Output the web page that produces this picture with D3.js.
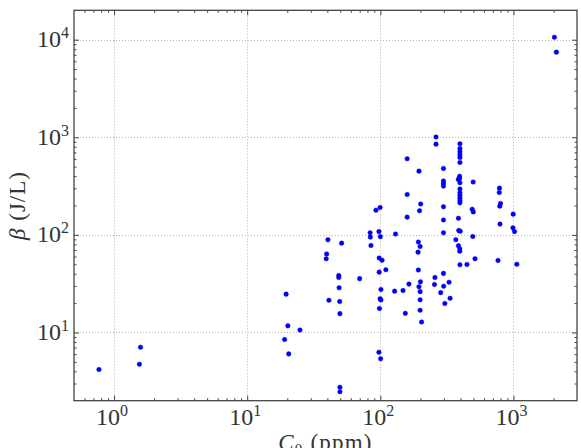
<!DOCTYPE html>
<html>
<head>
<meta charset="utf-8">
<script src="https://cdn.jsdelivr.net/npm/d3@7/dist/d3.min.js"></script>
<style>
  html, body { margin: 0; padding: 0; background: #fff; }
  svg { display: block; }
  text { font-family: "Liberation Serif", "Times New Roman", serif; fill: #333; }
</style>
</head>
<body>
<svg id="chart" width="581" height="448"></svg>
<script>
// Data (C0 in ppm, beta in J/L)
const c0 = [0.77,1.55,1.58,19.6,20.2,24.9,19.1,20.5,2030,2100,
  262,262,396,396,396,396,396,396,159,195,
  298,298,298,298,394,394,385,396,498,785,
  782,159,396,396,396,396,396,396,799,789,
  201,197,298,490,499,92.7,99.6,159,298,386,
  792,995,991,1018,83.8,84.1,85,97.6,100,130,
  298,388,398,495,40.4,51.2,193,199,192,369,
  386,395,395,39.5,39.2,98,103,514,765,1059,
  396,447,98,110,193,48.7,48.7,69.9,257,298,
  49,101,128,148,164,195,200,199,255,299,
  328,284,41.1,49.5,99.6,101,199,334,305,98.5,
  199,49.7,154,204,97.6,100.5,49.7,49.7];
const beta = [4.18,4.73,7.07,24.7,11.7,10.6,8.47,6.03,10600,7450,
  1007,850,857,767,710,662,621,552,603,450,
  479,356,336,316,399,378,370,342,348,301,
  272,259,295,270,253,238,224,213,210,197,
  207,177,194,183,172,179,191,152,142,148,
  129,163,118,108,105,94.9,77.8,108,95.9,102,
  105,111,109,96.4,89.1,82.3,84.5,76,66.5,89.3,
  77.5,72,68,63.7,56.9,58,55,57,54.7,50,
  49.5,49.8,41.5,43.9,43.6,38.4,36.6,35.6,36.6,40.3,
  28.7,27.6,26.5,26.9,31.3,29.4,33,26.2,31,29.8,
  32.7,25.6,21.4,20.8,22.2,21.5,21.6,22.4,19.8,17.6,
  16.9,15.6,15.7,12.8,6.28,5.38,2.75,2.47];

const xDomain = [0.5, 3000];
const yDomain = [2, 20000];
const xMajor = [1, 10, 100, 1000];
const yMajor = [10, 100, 1000, 10000];
const xExp = ["0", "1", "2", "3"];
const yExp = ["1", "2", "3", "4"];
const xTitle = "C";
const xTitleSub = "0";
const xTitleRest = " (ppm)";
const yTitleSym = "\u03B2";
const yTitleRest = " (J/L)";

function minorTicks(domain) {
  const out = [];
  for (let e = -2; e <= 5; e++) {
    for (let m = 2; m <= 9; m++) {
      const v = m * Math.pow(10, e);
      if (v > domain[0] * 1.0001 && v < domain[1] * 0.9999) out.push(v);
    }
  }
  return out;
}

const L = 74, R = 577, T = 10.3, B = 400.7;
const svg = d3.select("#chart");
const x = d3.scaleLog().domain(xDomain).range([L, R]);
const y = d3.scaleLog().domain(yDomain).range([B, T]);

const xMinor = minorTicks(xDomain);
const yMinor = minorTicks(yDomain);

// grid
const grid = svg.append("g").attr("stroke", "#b4b4b4").attr("stroke-width", 1).attr("stroke-dasharray", "1,2");
grid.selectAll("line.gx").data(xMajor).join("line")
  .attr("x1", d => Math.round(x(d)) + 0.5).attr("x2", d => Math.round(x(d)) + 0.5)
  .attr("y1", T).attr("y2", B);
grid.selectAll("line.gy").data(yMajor).join("line")
  .attr("y1", d => Math.round(y(d)) + 0.5).attr("y2", d => Math.round(y(d)) + 0.5)
  .attr("x1", L).attr("x2", R);

// axes: ticks inside, all four sides
function styleAxis(g) {
  g.select(".domain").remove();
  g.selectAll(".tick line").attr("stroke", "#444");
}
function addAxis(axisFn, scale, values, size, tx, ty) {
  svg.append("g").attr("transform", `translate(${tx},${ty})`)
    .call(axisFn(scale).tickValues(values).tickSizeInner(-size).tickSizeOuter(0).tickFormat(""))
    .call(styleAxis);
}
addAxis(d3.axisBottom, x, xMajor, 5, 0, B);
addAxis(d3.axisBottom, x, xMinor, 2.5, 0, B);
addAxis(d3.axisTop, x, xMajor, 5, 0, T);
addAxis(d3.axisTop, x, xMinor, 2.5, 0, T);
addAxis(d3.axisLeft, y, yMajor, 5, L, 0);
addAxis(d3.axisLeft, y, yMinor, 2.5, L, 0);
addAxis(d3.axisRight, y, yMajor, 5, R, 0);
addAxis(d3.axisRight, y, yMinor, 2.5, R, 0);

// tick labels with superscripts
const xl = svg.append("g").attr("font-size", 24);
xMajor.forEach((v, i) => {
  const t = xl.append("text").attr("x", x(v) - 2).attr("y", B + 24).attr("text-anchor", "middle");
  t.append("tspan").text("10");
  t.append("tspan").attr("dy", -9).attr("font-size", 16).text(xExp[i]);
});
const yl = svg.append("g").attr("font-size", 24);
yMajor.forEach((v, i) => {
  const t = yl.append("text").attr("x", L - 5).attr("y", y(v) + 7.5).attr("text-anchor", "end");
  t.append("tspan").text("10");
  t.append("tspan").attr("dy", -9).attr("font-size", 16).text(yExp[i]);
});

// frame
svg.append("rect").attr("x", L).attr("y", T).attr("width", R - L).attr("height", B - T)
  .attr("fill", "none").attr("stroke", "#444").attr("stroke-width", 1.3);

// points
svg.append("g").selectAll("circle").data(c0.map((c, i) => [c, beta[i]])).join("circle")
  .attr("cx", d => x(d[0])).attr("cy", d => y(d[1])).attr("r", 2.3)
  .attr("fill", "#0000ff").attr("stroke", "#0000cc").attr("stroke-width", 0.4);

// axis titles
const xt = svg.append("text").attr("x", (L + R) / 2).attr("y", 450).attr("text-anchor", "middle")
  .attr("font-size", 23).attr("letter-spacing", 1.2);
xt.append("tspan").attr("font-style", "italic").text(xTitle);
xt.append("tspan").attr("dy", 4).attr("font-size", 15).text(xTitleSub);
xt.append("tspan").attr("dy", -4).text(xTitleRest);

const yt = svg.append("text").attr("transform", `translate(25,${(T + B) / 2}) rotate(-90)`)
  .attr("text-anchor", "middle").attr("font-size", 23).attr("letter-spacing", 1);
yt.append("tspan").attr("font-style", "italic").text(yTitleSym);
yt.append("tspan").text(yTitleRest);
</script>
</body>
</html>
